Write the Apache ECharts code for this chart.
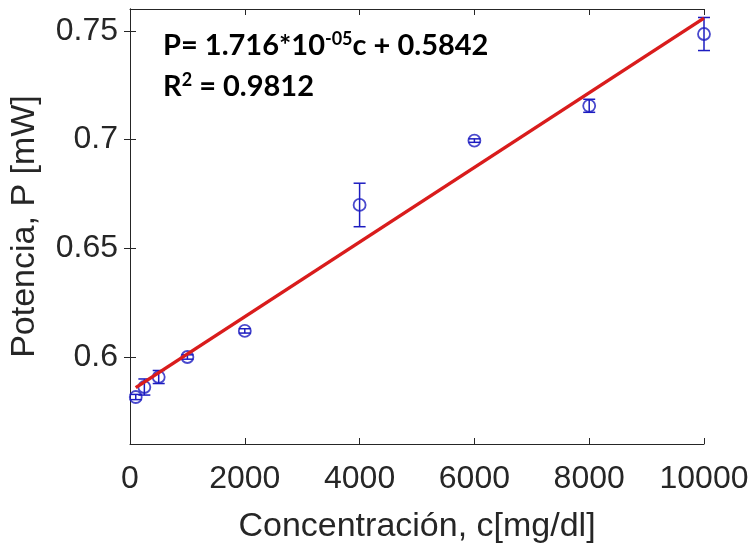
<!DOCTYPE html>
<html>
<head>
<meta charset="utf-8">
<script src="https://cdn.jsdelivr.net/npm/echarts@6/dist/echarts.min.js"></script>
<style>html,body{margin:0;padding:0;background:#fff;}#c{width:751px;height:544px;}</style>
</head>
<body>
<div id="c"></div>
<script>
const concentrations = [100, 250, 500, 1000, 2000, 4000, 6000, 8000, 10000];
const power = [0.5816, 0.5862, 0.5908, 0.6000, 0.6120, 0.6699, 0.6995, 0.7155, 0.7485];
const powerErr = [0.0012, 0.0037, 0.0030, 0.0010, 0.0010, 0.0100, 0.0008, 0.0030, 0.0076];
const fitSlope = 1.716e-5;
const fitIntercept = 0.5842;
const fitRange = [100, 10000];
const xTicks = [0, 2000, 4000, 6000, 8000, 10000];
const yTicks = [0.6, 0.65, 0.7, 0.75];

const scatterData = concentrations.map((c, i) => [c, power[i]]);
const errData = concentrations.map((c, i) => [c, power[i] - powerErr[i], power[i] + powerErr[i]]);
const fitData = fitRange.map(c => [c, fitSlope * c + fitIntercept]);

const chart = echarts.init(document.getElementById('c'));
const tickFont = {fontFamily: 'Liberation Sans, Arial, sans-serif', fontSize: 32, color: '#262626'};
const axisColor = '#262626';
chart.setOption({
  animation: false,
  backgroundColor: '#fff',
  grid: {left: 130, right: 47, top: 9, bottom: 100, containLabel: false, outerBoundsMode: 'none'},
  xAxis: [{
    type: 'value', min: 0, max: 10000, interval: 2000,
    position: 'bottom',
    name: 'Concentración, c[mg/dl]', nameLocation: 'middle', nameGap: 66,
    nameTextStyle: {fontFamily: 'Liberation Sans, Arial, sans-serif', fontSize: 34, color: axisColor},
    axisLine: {show: true, lineStyle: {color: axisColor, width: 1}},
    axisTick: {show: true, inside: true, length: 6, lineStyle: {color: axisColor}},
    axisLabel: Object.assign({margin: 19, formatter: v => String(v), hideOverlap: false}, tickFont),
    splitLine: {show: false}
  }, {
    type: 'value', min: 0, max: 10000, interval: 2000, position: 'top',
    axisLine: {show: true, lineStyle: {color: axisColor, width: 1}},
    axisTick: {show: true, inside: true, length: 6, lineStyle: {color: axisColor}},
    axisLabel: {show: false}, splitLine: {show: false}
  }],
  yAxis: [{
    type: 'value', min: 0.56, max: 0.76,
    name: 'Potencia, P [mW]', nameLocation: 'middle', nameGap: 88, nameRotate: 90,
    nameTextStyle: {fontFamily: 'Liberation Sans, Arial, sans-serif', fontSize: 34, color: axisColor},
    axisLine: {show: true, lineStyle: {color: axisColor, width: 1}},
    axisTick: {show: true, inside: true, length: 6, customValues: yTicks, lineStyle: {color: axisColor}},
    axisLabel: Object.assign({margin: 12, customValues: yTicks, formatter: v => String(+v.toFixed(2))}, tickFont),
    splitLine: {show: false}
  }, {
    type: 'value', min: 0.56, max: 0.76, position: 'right',
    axisLine: {show: true, lineStyle: {color: axisColor, width: 1}},
    axisTick: {show: true, inside: true, length: 6, customValues: yTicks, lineStyle: {color: axisColor}},
    axisLabel: {show: false}, splitLine: {show: false}
  }],
  series: [{
    type: 'custom',
    xAxisIndex: 0, yAxisIndex: 0,
    data: errData,
    z: 3,
    renderItem: function (params, api) {
      const x = api.value(0);
      const lo = api.coord([x, api.value(1)]);
      const hi = api.coord([x, api.value(2)]);
      const hw = 6;
      const st = {stroke: '#1c1cc0', lineWidth: 1.5};
      return {
        type: 'group',
        children: [
          {type: 'line', shape: {x1: lo[0], y1: lo[1], x2: hi[0], y2: hi[1]}, style: st},
          {type: 'line', shape: {x1: lo[0] - hw, y1: lo[1], x2: lo[0] + hw, y2: lo[1]}, style: st},
          {type: 'line', shape: {x1: hi[0] - hw, y1: hi[1], x2: hi[0] + hw, y2: hi[1]}, style: st}
        ]
      };
    }
  }, {
    type: 'scatter',
    data: scatterData,
    symbol: 'circle',
    symbolSize: 12,
    z: 4,
    itemStyle: {color: 'rgba(0,0,0,0)', borderColor: '#1c1cc0', borderWidth: 1.8}
  }, {
    type: 'line',
    data: fitData,
    showSymbol: false,
    z: 5,
    lineStyle: {color: '#d91c1c', width: 3.5}
  }],
  graphic: [{
    type: 'text',
    left: 163, top: 30,
    style: {
      rich: {
        b: {fontFamily: 'Lato, Open Sans, sans-serif', fontWeight: 'bold', fontSize: 29, fill: '#000'},
        s: {fontFamily: 'Lato, Open Sans, sans-serif', fontWeight: 'bold', fontSize: 18, fill: '#000', padding: [0, 0, 14, 0]}
      },
      text: '{b|P= 1.716*10}{s|-05}{b|c + 0.5842}'
    }
  }, {
    type: 'text',
    left: 163, top: 71,
    style: {
      rich: {
        b: {fontFamily: 'Lato, Open Sans, sans-serif', fontWeight: 'bold', fontSize: 29, fill: '#000'},
        s: {fontFamily: 'Lato, Open Sans, sans-serif', fontWeight: 'bold', fontSize: 18, fill: '#000', padding: [0, 0, 14, 0]}
      },
      text: '{b|R}{s|2}{b| = 0.9812}'
    }
  }]
});
</script>
</body>
</html>
